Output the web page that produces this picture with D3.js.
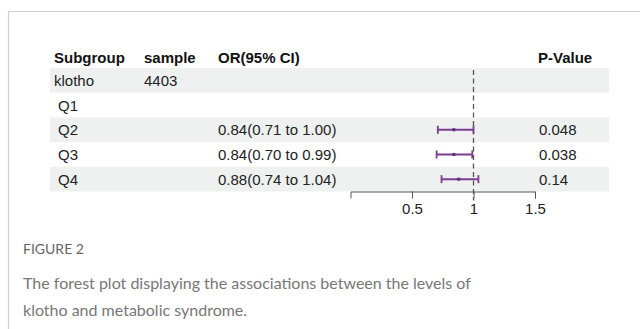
<!DOCTYPE html>
<html>
<head>
<meta charset="utf-8">
<script src="https://cdn.jsdelivr.net/npm/d3@7"></script>
<style>
  body { margin: 0; background: #fff; }
  svg { display: block; }
</style>
</head>
<body>
<div id="chart"></div>
<script>
// table data
var subgroups = ["klotho", "Q1", "Q2", "Q3", "Q4"];
var indented = [false, true, true, true, true];
var samples = ["4403", "", "", "", ""];
var orText = ["", "", "0.84(0.71 to 1.00)", "0.84(0.70 to 0.99)", "0.88(0.74 to 1.04)"];
var orEst = [null, null, 0.84, 0.84, 0.88];
var ciLow = [null, null, 0.71, 0.70, 0.74];
var ciHigh = [null, null, 1.00, 0.99, 1.04];
var pValues = ["", "", "0.048", "0.038", "0.14"];
var tickValues = [0.5, 1, 1.5];

var width = 640, height = 329;
var rowTop = 68, rowH = 24.7;
var tableFont = "'Liberation Sans', Arial, sans-serif";

var svg = d3.select("#chart").append("svg")
    .attr("width", width)
    .attr("height", height);

// frame lines
svg.append("line").attr("x1", 8).attr("x2", width).attr("y1", 11.5).attr("y2", 11.5)
    .attr("stroke", "#cfcfcf").attr("stroke-width", 1.2);
svg.append("line").attr("x1", 8.5).attr("x2", 8.5).attr("y1", 11).attr("y2", height)
    .attr("stroke", "#cfcfcf").attr("stroke-width", 1.2);

var x = d3.scaleLinear().domain([0, 1.5]).range([350.5, 535]);
var rowY = function (i) { return rowTop + i * rowH; };

// shaded rows
svg.append("g").selectAll("rect")
    .data(subgroups.map((d, i) => i).filter(i => i % 2 === 0))
    .enter().append("rect")
    .attr("x", 50)
    .attr("y", d => rowY(d))
    .attr("width", 559)
    .attr("height", rowH)
    .attr("fill", "#eef1f0");

// header
var cols = [54, 144, 218];
var header = svg.append("g")
    .style("font-family", tableFont)
    .style("font-size", "15px")
    .style("font-weight", "bold")
    .attr("fill", "#111");
header.append("text").attr("x", cols[0]).attr("y", 63).text("Subgroup");
header.append("text").attr("x", cols[1]).attr("y", 63).text("sample");
header.append("text").attr("x", cols[2]).attr("y", 63).text("OR(95% CI)");
header.append("text").attr("x", 538).attr("y", 63).text("P-Value");

// body text
var body = svg.append("g")
    .style("font-family", tableFont)
    .style("font-size", "15px")
    .attr("fill", "#222");

subgroups.forEach(function (s, i) {
    var yb = rowY(i) + rowH / 2 + 5.5;
    body.append("text").attr("x", indented[i] ? 58 : 54).attr("y", yb).text(s);
    body.append("text").attr("x", cols[1]).attr("y", yb).text(samples[i]);
    body.append("text").attr("x", cols[2]).attr("y", yb).text(orText[i]);
    body.append("text").attr("x", 539).attr("y", yb).text(pValues[i]);
});

// reference line at 1
var axisY = rowY(5);
svg.append("line")
    .attr("x1", x(1)).attr("x2", x(1))
    .attr("y1", rowTop + 2).attr("y2", axisY + 9)
    .attr("stroke", "#555")
    .attr("stroke-width", 1.3)
    .attr("stroke-dasharray", "5,3.5");

// confidence intervals
var ciColor = "#7b3d8e";
var ci = svg.append("g");
subgroups.forEach(function (s, i) {
    if (orEst[i] === null) return;
    var cy = rowY(i) + rowH / 2;
    ci.append("line").attr("x1", x(ciLow[i])).attr("x2", x(ciHigh[i]))
        .attr("y1", cy).attr("y2", cy)
        .attr("stroke", ciColor).attr("stroke-width", 2);
    [ciLow[i], ciHigh[i]].forEach(function (v) {
        ci.append("line").attr("x1", x(v)).attr("x2", x(v))
            .attr("y1", cy - 4).attr("y2", cy + 4)
            .attr("stroke", ciColor).attr("stroke-width", 1.8);
    });
    ci.append("rect").attr("x", x(orEst[i]) - 1.5).attr("y", cy - 1.5)
        .attr("width", 3).attr("height", 3).attr("fill", "#5a2f8a");
});

// x axis
var axis = svg.append("g")
    .attr("transform", "translate(0," + axisY + ")")
    .call(d3.axisBottom(x).tickValues(tickValues).tickSizeOuter(0).tickSize(7).tickFormat(d => d));
axis.select(".domain").attr("stroke", "#555");
axis.selectAll(".tick line").attr("stroke", "#555");
axis.selectAll(".tick text")
    .style("font-family", tableFont)
    .style("font-size", "15px")
    .attr("fill", "#222")
    .attr("dy", "0.85em");

// caption
var cap = svg.append("g").style("font-family", "Lato, sans-serif");
cap.append("text").attr("x", 23).attr("y", 254)
    .style("font-size", "14px").attr("fill", "#666").text("FIGURE 2");
cap.append("text").attr("x", 23).attr("y", 289)
    .style("font-size", "16px").attr("fill", "#777")
    .text("The forest plot displaying the associations between the levels of");
cap.append("text").attr("x", 23).attr("y", 316)
    .style("font-size", "16px").attr("fill", "#777")
    .text("klotho and metabolic syndrome.");
</script>
</body>
</html>
